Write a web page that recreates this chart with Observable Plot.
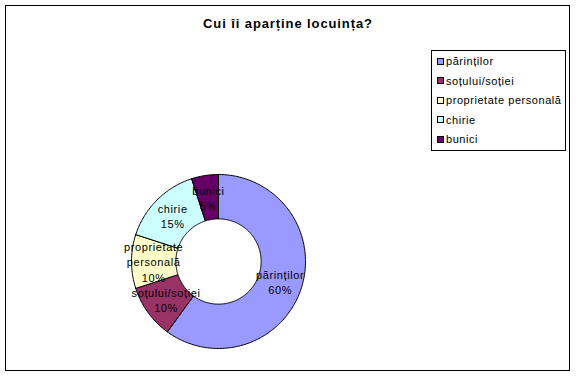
<!DOCTYPE html>
<html>
<head>
<meta charset="utf-8">
<script src="https://cdn.jsdelivr.net/npm/d3@7"></script>
<script src="https://cdn.jsdelivr.net/npm/@observablehq/plot@0.6"></script>
<style>
  html, body { margin: 0; padding: 0; background: #fff; }
  #wrap { position: relative; width: 576px; height: 376px; overflow: hidden; font-family: "Liberation Sans", Arial, sans-serif; }
  #frame { position: absolute; left: 5px; top: 5px; width: 563px; height: 364px; border: 1px solid #000; box-sizing: content-box; }
  #title { position: absolute; left: 0; width: 576px; top: 16px; text-align: center; font-weight: bold; font-size: 13px; letter-spacing: 0.9px; }
  #chart { position: absolute; left: 0; top: 0; }
  #legend { position: absolute; left: 431px; top: 50px; width: 133px; height: 99px; border: 1px solid #000; background: #fff; font-size: 11px; }
  .row { position: absolute; left: 5px; height: 14px; line-height: 14px; white-space: nowrap; letter-spacing: 0.55px; }
  .sw { display: inline-block; width: 5px; height: 5px; border: 1px solid #000; vertical-align: middle; margin-right: 2px; position: relative; top: -1px; }
  svg .lbl text { letter-spacing: 0.6px; }
</style>
</head>
<body>
<div id="wrap">
  <div id="frame"></div>
  <div id="title">Cui îi aparține locuința?</div>
  <div id="chart"></div>
  <div id="legend"></div>
</div>
<script>
const categories = ["părinților", "soțului/soției", "proprietate personală", "chirie", "bunici"];
const values = [60, 10, 10, 15, 5];
const labelLines = ["părinților", "soțului/soției", "proprietate\npersonală", "chirie", "bunici"];
const colors = ["#9999FF", "#993366", "#FFFFCC", "#CCFFFF", "#660066"];

const innerRatio = 0.49;
const labelR = 0.745;
const total = d3.sum(values);
const pie = d3.pie().sort(null).value(d => d.value)(categories.map((c, i) => ({category: c, value: values[i], label: labelLines[i]})));

// polygon outlines for each slice (angles clockwise from 12 o'clock)
const ring = [];
for (const p of pie) {
  const n = Math.max(4, Math.ceil((p.endAngle - p.startAngle) / (Math.PI / 180)));
  const pts = [];
  for (let k = 0; k <= n; k++) {
    const a = p.startAngle + (p.endAngle - p.startAngle) * k / n;
    pts.push({category: p.data.category, x: Math.sin(a), y: Math.cos(a)});
  }
  for (let k = n; k >= 0; k--) {
    const a = p.startAngle + (p.endAngle - p.startAngle) * k / n;
    pts.push({category: p.data.category, x: innerRatio * Math.sin(a), y: innerRatio * Math.cos(a)});
  }
  pts.push({...pts[0]});
  ring.push(...pts);
}

const labels = pie.map(p => {
  const a = (p.startAngle + p.endAngle) / 2;
  return {x: labelR * Math.sin(a), y: labelR * Math.cos(a), text: p.data.label + "\n" + Math.round(p.data.value / total * 100) + "%"};
});

const plot = Plot.plot({
  width: 576,
  height: 376,
  margin: 0,
  x: {domain: [-1, 1], range: [131, 305], axis: null},
  y: {domain: [-1, 1], range: [348, 174], axis: null},
  color: {domain: categories, range: colors},
  style: {background: "transparent", fontFamily: "'Liberation Sans', Arial, sans-serif"},
  marks: [
    Plot.line(ring, {x: "x", y: "y", z: "category", fill: "category", stroke: "#000", strokeWidth: 1, curve: "linear"}),
    Plot.text(labels, {x: "x", y: "y", text: "text", fontSize: 11, lineHeight: 1.4, fill: "#000", textAnchor: "middle", className: "lbl"})
  ]
});
document.getElementById("chart").appendChild(plot);

const color = plot.scale("color");
const legend = document.getElementById("legend");
categories.forEach((c, i) => {
  const row = document.createElement("div");
  row.className = "row";
  row.style.top = (3 + i * 19.6) + "px";
  const sw = document.createElement("span");
  sw.className = "sw";
  sw.style.background = color.apply(c);
  row.appendChild(sw);
  row.appendChild(document.createTextNode(c));
  legend.appendChild(row);
});
</script>
</body>
</html>
